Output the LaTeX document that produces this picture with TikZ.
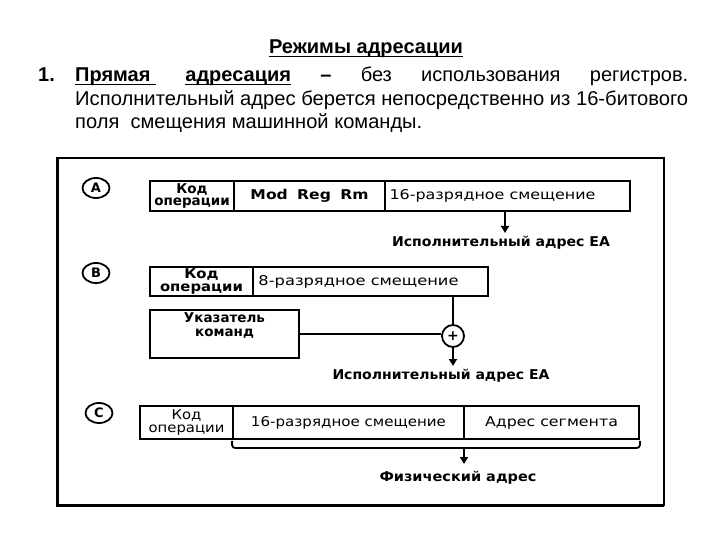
\documentclass[tikz,border=0pt]{standalone}
\usepackage{fontspec}
\usepackage{graphicx}
\setmainfont{DejaVu Sans}
\newfontfamily\hdr{Liberation Sans}
\usetikzlibrary{arrows.meta,shapes.geometric}
\newcommand\fitw[2]{\resizebox{#1pt}{\height}{#2}}
\newcommand\ulx[1]{\setbox0\hbox{#1}\rlap{\rule[-3pt]{\wd0}{1.4pt}}\box0}
\begin{document}
\begin{tikzpicture}[x=1pt,y=-1pt,
  cell/.style={draw, line width=1.8pt, inner sep=0pt, align=center, font=\fontsize{13.5}{14}\selectfont},
  bcell/.style={cell, font=\bfseries\fontsize{13.5}{14}\selectfont},
  lbl/.style={inner sep=0pt, font=\bfseries\fontsize{13.5}{14}\selectfont},
  letter/.style={ellipse, draw, line width=1.8pt, minimum width=27pt, minimum height=20pt, inner sep=0pt, font=\bfseries\fontsize{13}{13}\selectfont},
  ln/.style={line width=1.8pt},
  arr/.style={line width=1.8pt, -{Triangle[length=7pt,width=8pt]}},
  hd/.style={inner sep=0pt, font=\hdr\fontsize{20}{24}\selectfont},
  hdb/.style={inner sep=0pt, font=\hdr\bfseries\fontsize{20}{24}\selectfont}
]
\useasboundingbox (0,0) rectangle (720,540);
\fill[white] (0,0) rectangle (720,540);

% header text
\node[hdb, anchor=base] (title) at (366,54) {\ulx{Режимы адресации}};
\node[hdb, anchor=base west] (num) at (38,82) {1.};
\node[hd, anchor=base west] (l1) at (75,82) {\makebox[613pt][l]{\textbf{\ulx{Прямая\ }}\hfill\textbf{\ulx{адресация}}\hfill\textbf{–}\hfill без\hfill использования\hfill регистров.}};
\node[hd, anchor=base west] (l2) at (75,106) {\fitw{613}{Исполнительный адрес берется непосредственно из 16-битового}};
\node[hd, anchor=base west] (l3) at (75,129) {\fitw{347}{поля\ \ смещения машинной команды.}};

% frame
\draw[line width=3pt] (57,157) -- (57,506);
\draw[line width=3pt] (56,505) -- (664,505);
\draw[line width=2pt] (57,158) -- (665,158);
\draw[line width=2pt] (664,157) -- (664,506);

% A
\node[letter] (la) at (96,188) {A};
\node[bcell, minimum width=84pt, minimum height=30pt] (A1) at (192,196) {\shortstack{Код\\операции}};
\node[bcell, minimum width=151pt, minimum height=30pt] (A2) at (309.5,196) {\fitw{118}{Mod\hspace{0.6em}Reg\hspace{0.6em}Rm}};
\node[cell, minimum width=245pt, minimum height=30pt] (A3) at (507.5,196) {\fitw{206}{16-разрядное смещение}\hspace{30pt}};
\coordinate (aA) at (505,233);
\draw[arr] (A3.south -| aA) -- (aA);
\node[lbl] (eaA) at (501,243) {\fitw{218}{Исполнительный адрес EA}};

% B
\node[letter] (lb) at (96,273) {B};
\node[bcell, minimum width=103pt, minimum height=29pt] (B1) at (201.5,281.5) {\scalebox{1.1}[1]{\shortstack{Код\\операции}}};
\node[cell, minimum width=235pt, minimum height=29pt] (B2) at (370.5,281.5) {\fitw{200}{8-разрядное смещение}\hspace{24pt}};
\node[bcell, minimum width=149pt, minimum height=48pt] (ptr) at (224.5,334) {Указатель\\команд\rule[-18pt]{0pt}{0pt}};
\node[circle, draw, line width=1.8pt, minimum size=22pt, inner sep=0pt, font=\bfseries\fontsize{14}{14}\selectfont] (plus) at (453,336) {+};
\draw[ln] (B2.south -| plus) -- (plus.north);
\draw[ln] (ptr.east) -- (ptr.east -| plus.west);
\coordinate (aB) at (453,366);
\draw[arr] (plus.south) -- (aB);
\node[lbl] (eaB) at (441,376) {\fitw{217}{Исполнительный адрес EA}};

% C
\node[letter] (lc) at (99,413) {C};
\node[cell, minimum width=93pt, minimum height=33pt] (C1) at (186.5,422.5) {\scalebox{1.1}[1]{\shortstack{Код\\операции}}};
\node[cell, minimum width=231pt, minimum height=33pt] (C2) at (348.5,422.5) {\fitw{195}{16-разрядное смещение}};
\node[cell, minimum width=175pt, minimum height=33pt] (C3) at (551.5,422.5) {\fitw{133}{Адрес сегмента}};
\coordinate (bm) at (464,448);
\draw[ln, rounded corners=3pt] ([yshift=-1pt]C2.south west) |- (bm) -| ([yshift=-1pt]C3.south east);
\coordinate (aC) at (464,464);
\draw[arr] (bm) -- (aC);
\node[lbl] (phys) at (458,478) {\fitw{157}{Физический адрес}};
\end{tikzpicture}
\end{document}
